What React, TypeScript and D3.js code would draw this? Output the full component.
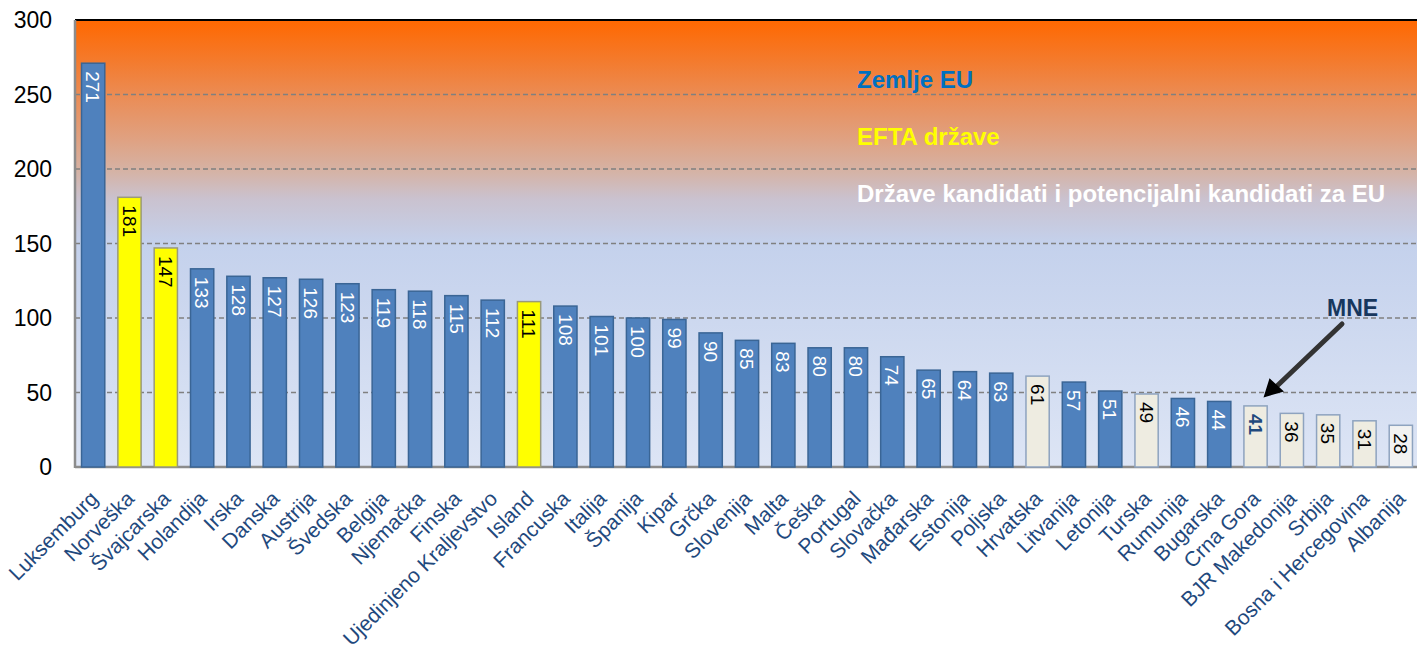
import React from "react";
import { scaleBand, scaleLinear } from "d3";

const countries = [
  "Luksemburg", "Norveška", "Švajcarska", "Holandija", "Irska", "Danska", "Austrija",
  "Švedska", "Belgija", "Njemačka", "Finska", "Ujedinjeno Kraljevstvo", "Island",
  "Francuska", "Italija", "Španija", "Kipar", "Grčka", "Slovenija", "Malta", "Češka",
  "Portugal", "Slovačka", "Mađarska", "Estonija", "Poljska", "Hrvatska", "Litvanija",
  "Letonija", "Turska", "Rumunija", "Bugarska", "Crna Gora", "BJR Makedonija", "Srbija",
  "Bosna i Hercegovina", "Albanija",
];
const values = [
  271, 181, 147, 133, 128, 127, 126, 123, 119, 118, 115, 112, 111, 108, 101, 100, 99,
  90, 85, 83, 80, 80, 74, 65, 64, 63, 61, 57, 51, 49, 46, 44, 41, 36, 35, 31, 28,
];
// eu = EU member, efta = EFTA, cand = candidate / potential candidate
const groups = [
  "eu", "efta", "efta", "eu", "eu", "eu", "eu", "eu", "eu", "eu", "eu", "eu", "efta",
  "eu", "eu", "eu", "eu", "eu", "eu", "eu", "eu", "eu", "eu", "eu", "eu", "eu", "cand",
  "eu", "eu", "cand", "eu", "eu", "cand", "cand", "cand", "cand", "cand",
];
const yTicks = [0, 50, 100, 150, 200, 250, 300];
const legend = [
  { text: "Zemlje EU", color: "#0070C0" },
  { text: "EFTA države", color: "#FFFF00" },
  { text: "Države kandidati i potencijalni kandidati za EU", color: "#FFFFFF" },
];

const fills: Record<string, string> = { eu: "#4F81BD", efta: "#FFFF00", cand: "#EEECE1" };
const strokes: Record<string, string> = { eu: "#3A6595", efta: "#9A9A7A", cand: "#8EA3BF" };
const labelColor: Record<string, string> = { eu: "#FFFFFF", efta: "#000000", cand: "#000000" };

export default function App() {
  const width = 1417;
  const height = 650;
  const left = 75;
  const right = 1419;
  const top = 20;
  const bottom = 467;
  const font = "Liberation Sans, Arial, sans-serif";

  const x = scaleBand<string>().domain(countries).range([left, right]).paddingInner(0.36).paddingOuter(0.18);
  const y = scaleLinear().domain([0, 300]).range([bottom, top]);

  return (
    <div style={{ position: "absolute", left: 0, top: 0 }}>
      <svg width={width} height={height} style={{ display: "block", background: "#fff" }}>
        <defs>
          <linearGradient id="bg" x1="0" y1="0" x2="0" y2="1">
            <stop offset="0" stopColor="#FF6800" />
            <stop offset="0.09" stopColor="#F47A2C" />
            <stop offset="0.17" stopColor="#EB8C55" />
            <stop offset="0.27" stopColor="#DFA283" />
            <stop offset="0.34" stopColor="#D5B3A6" />
            <stop offset="0.40" stopColor="#CAC2CF" />
            <stop offset="0.50" stopColor="#C4D1EC" />
            <stop offset="1" stopColor="#DDE5F5" />
          </linearGradient>
        </defs>
        <rect x={left} y={top} width={width - left} height={bottom - top} fill="url(#bg)" />

        {yTicks.filter((t) => t > 0 && t < 300).map((t) => (
          <line key={t} x1={left} x2={width} y1={y(t)} y2={y(t)} stroke="#808080" strokeWidth={1.3} strokeDasharray="5,3" />
        ))}

        <line x1={left} x2={width} y1={top} y2={top} stroke="#000" strokeWidth={2} />
        <line x1={left} x2={left} y1={top} y2={bottom + 1} stroke="#8C8C8C" strokeWidth={2.5} />
        <line x1={left} x2={width} y1={bottom} y2={bottom} stroke="#8C8C8C" strokeWidth={2.5} />

        {yTicks.map((t) => (
          <text key={t} x={52} y={y(t)} dy="0.36em" textAnchor="end" fontFamily={font} fontSize={23} fill="#000">
            {t}
          </text>
        ))}

        {countries.map((c, i) => {
          const g = groups[i];
          const bx = x(c) as number;
          const bw = x.bandwidth();
          const by = y(values[i]);
          const fill = c === "Albanija" ? "#F2F2F2" : fills[g];
          const isMne = c === "Crna Gora";
          return (
            <g key={c}>
              <rect x={bx} y={by} width={bw} height={bottom - by} fill={fill} stroke={strokes[g]} strokeWidth={1.5} />
              <text
                transform={`translate(${bx + bw / 2},${by + 8}) rotate(90)`}
                dy="0.36em"
                fontFamily={font}
                fontSize={19}
                fontWeight={isMne ? "bold" : "normal"}
                fill={isMne ? "#1F497D" : labelColor[g]}
              >
                {values[i]}
              </text>
              <text
                transform={`translate(${bx + bw / 2 + 6},${bottom + 33}) rotate(-45)`}
                textAnchor="end"
                fontFamily={font}
                fontSize={21}
                fill="#1F497D"
              >
                {c}
              </text>
            </g>
          );
        })}

        {legend.map((l, i) => (
          <text key={l.text} x={857} y={88 + i * 57} fontFamily={font} fontSize={24} fontWeight="bold" fill={l.color}>
            {l.text}
          </text>
        ))}

        <text x={1327} y={316} fontFamily={font} fontSize={23} fontWeight="bold" fill="#17375E">MNE</text>
        <line x1={1342} y1={324} x2={1277} y2={386} stroke="#333" strokeWidth={5} strokeLinecap="round" />
        <polygon points="1265,396 1270,380 1282,391" fill="#000" stroke="#000" strokeWidth={2} />
      </svg>
    </div>
  );
}
